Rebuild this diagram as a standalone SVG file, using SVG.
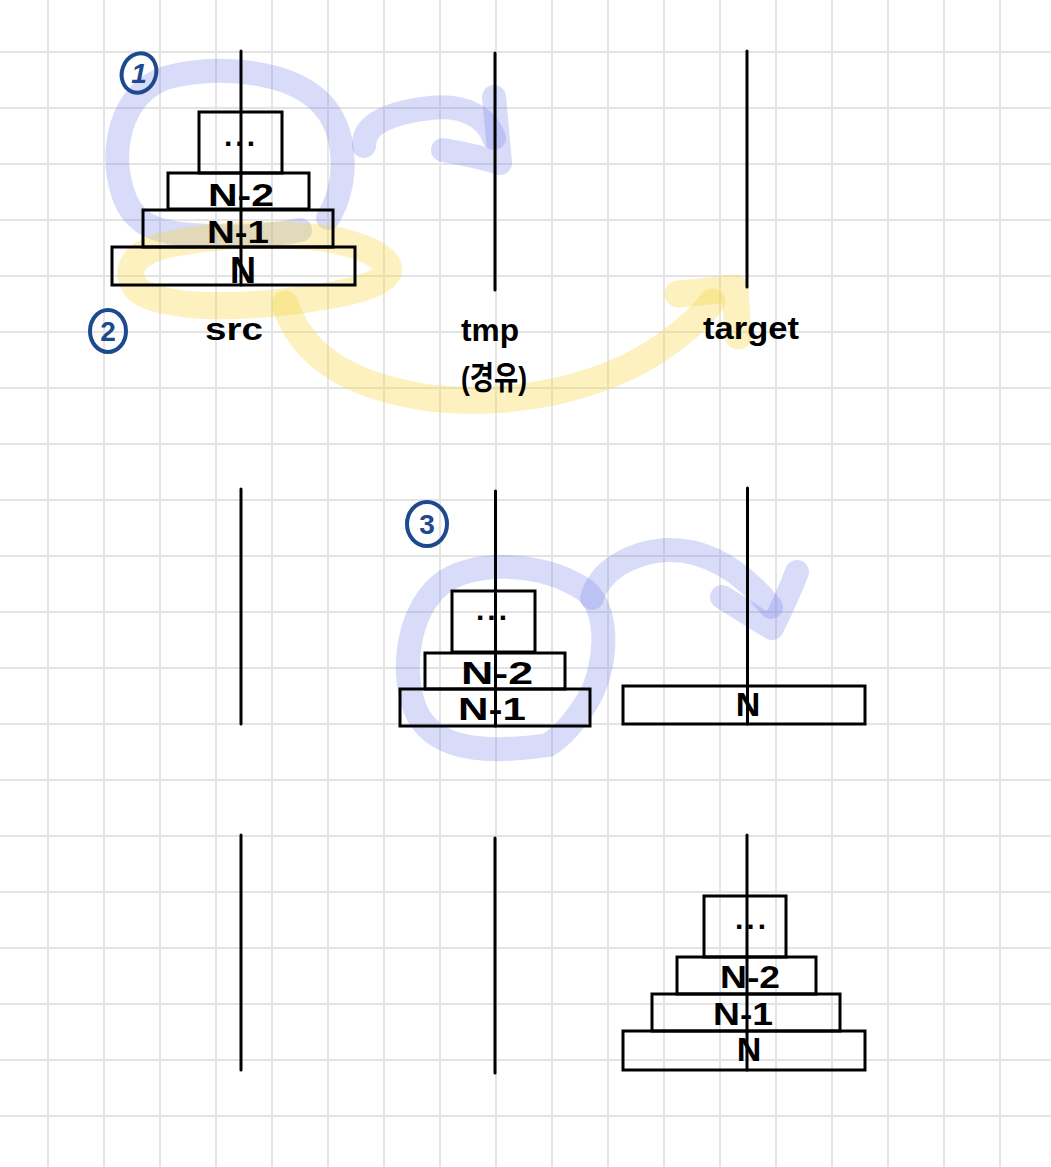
<svg xmlns="http://www.w3.org/2000/svg" width="1051" height="1167" viewBox="0 0 1051 1167">
  <defs>
    <style>
      .grid { stroke: #e4e4e4; stroke-width: 2; fill: none; }
      .pole { stroke: #000; stroke-width: 3; fill: none; stroke-linecap: round; }
      .disk { stroke: #000; stroke-width: 3; fill: none; }
      .lbl { font-family: "Liberation Sans", "Noto Sans", sans-serif; font-weight: bold; fill: #000; text-anchor: middle; }
      .dots { font-family: "Liberation Sans", sans-serif; font-weight: bold; font-size: 30px; fill: #000; text-anchor: middle; letter-spacing: 3px; }
      .peg { font-family: "Liberation Sans", "Noto Sans CJK KR", sans-serif; font-weight: bold; font-size: 32px; fill: #000; text-anchor: middle; }
      .blue { fill: none; stroke: rgb(120,128,235); stroke-opacity: 0.28; stroke-width: 24; stroke-linecap: round; stroke-linejoin: round; }
      .yellow { fill: none; stroke: rgb(245,212,60); stroke-opacity: 0.33; stroke-width: 27; stroke-linecap: round; stroke-linejoin: round; }
      .num ellipse { fill: none; stroke: #1d4a8e; stroke-width: 4; }
      .num text { font-family: "Liberation Sans", sans-serif; font-weight: bold; font-size: 28px; fill: #1d4a8e; text-anchor: middle; }
    </style>
  </defs>
  <rect x="0" y="0" width="1051" height="1167" fill="#fff"/>
  <g id="grid" class="grid">
    <path d="M48 0V1167M104 0V1167M160 0V1167M216 0V1167M272 0V1167M328 0V1167M384 0V1167M440 0V1167M496 0V1167M552 0V1167M608 0V1167M664 0V1167M720 0V1167M776 0V1167M832 0V1167M888 0V1167M944 0V1167M1000 0V1167"/>
    <path d="M0 52H1051M0 108H1051M0 164H1051M0 220H1051M0 276H1051M0 332H1051M0 388H1051M0 444H1051M0 500H1051M0 556H1051M0 612H1051M0 668H1051M0 724H1051M0 780H1051M0 836H1051M0 892H1051M0 948H1051M0 1004H1051M0 1060H1051M0 1116H1051"/>
  </g>

  <g id="connectors">
    <!-- step 1: blue loop and arrow to tmp -->
    <path class="blue" d="M328 218 C348 185 350 130 318 100 C285 70 215 64 165 78 C120 95 110 150 122 190 C130 220 150 232 190 235 C230 238 270 236 300 230"/>
    <path class="blue" d="M364 146 C363 122 395 112 430 108 C465 104 487 118 494 138"/>
    <path class="blue" d="M494 97 C496 120 498 140 500 162 M443 150 C465 154 485 158 500 163"/>
    <!-- step 2: yellow loop and arrow to target -->
    <path class="yellow" d="M300 236 C340 238 380 250 388 266 C392 282 360 292 300 300 C240 308 165 310 138 290 C122 272 132 252 170 244 C210 236 250 233 300 236"/>
    <path class="yellow" d="M285 304 C300 350 340 385 430 398 C520 408 600 385 650 355 C680 336 700 318 712 302"/>
    <path class="yellow" d="M678 294 C700 292 718 290 735 288 C736 305 737 322 738 336"/>
    <!-- step 3: blue loop and arrow to target -->
    <path class="blue" d="M548 745 C500 752 440 755 418 715 C400 680 405 615 440 585 C470 560 540 560 585 590 C612 612 606 670 588 700 C575 722 560 738 548 745"/>
    <path class="blue" d="M592 598 C600 570 630 553 665 550 C710 548 745 575 771 607"/>
    <path class="blue" d="M797 572 C790 590 780 612 772 628 M722 597 C740 608 758 620 772 628"/>
  </g>

  <g id="pegs">
    <line class="pole" x1="241" y1="51" x2="241" y2="285"/>
    <line class="pole" x1="495" y1="53" x2="495" y2="290"/>
    <line class="pole" x1="747" y1="51" x2="747" y2="287"/>
    <line class="pole" x1="241" y1="489" x2="241" y2="724"/>
    <line class="pole" x1="495.5" y1="491" x2="495.5" y2="726"/>
    <line class="pole" x1="747.5" y1="488" x2="747.5" y2="724"/>
    <line class="pole" x1="241" y1="835" x2="241" y2="1070"/>
    <line class="pole" x1="495" y1="838" x2="495" y2="1073"/>
    <line class="pole" x1="747" y1="835" x2="747" y2="1070"/>
  </g>

  <g id="peg-labels">
    <text class="peg" x="234" y="340" textLength="58" lengthAdjust="spacingAndGlyphs">src</text>
    <text class="peg" x="490" y="341" textLength="58" lengthAdjust="spacingAndGlyphs">tmp</text>
    <text class="peg" x="494" y="389" font-size="26" textLength="66" lengthAdjust="spacingAndGlyphs">(경유)</text>
    <text class="peg" x="751" y="339" textLength="96" lengthAdjust="spacingAndGlyphs">target</text>
  </g>

  <g id="step-numbers" class="num">
    <g id="num-1"><ellipse cx="139" cy="73" rx="17" ry="20" transform="rotate(20 139 73)"/><text x="139" y="83" font-style="italic">1</text></g>
    <g id="num-2"><ellipse cx="108" cy="331" rx="18" ry="21"/><text x="108" y="341">2</text></g>
    <g id="num-3"><ellipse cx="427" cy="524" rx="20" ry="22"/><text x="427" y="534">3</text></g>
  </g>

  <!-- top row: all disks on src -->
  <g id="top-dots"><rect class="disk" x="199" y="112" width="83" height="61"/><text class="dots" x="241" y="146">...</text></g>
  <g id="top-n2"><rect class="disk" x="168" y="173" width="141" height="36"/><text class="lbl" x="241" y="206" font-size="32" textLength="66" lengthAdjust="spacingAndGlyphs">N-2</text></g>
  <g id="top-n1"><rect class="disk" x="143" y="210" width="190" height="37"/><text class="lbl" x="238" y="243" font-size="32" textLength="62" lengthAdjust="spacingAndGlyphs">N-1</text></g>
  <g id="top-n"><rect class="disk" x="112" y="247" width="243" height="38"/><text class="lbl" x="243" y="283" font-size="36">N</text></g>

  <!-- middle row -->
  <g id="mid-dots"><rect class="disk" x="452" y="591" width="83" height="61"/><text class="dots" x="493" y="620">...</text></g>
  <g id="mid-n2"><rect class="disk" x="425" y="653" width="140" height="36"/><text class="lbl" x="497" y="684" font-size="32" textLength="72" lengthAdjust="spacingAndGlyphs">N-2</text></g>
  <g id="mid-n1"><rect class="disk" x="400" y="689" width="190" height="37"/><text class="lbl" x="492" y="720" font-size="32" textLength="68" lengthAdjust="spacingAndGlyphs">N-1</text></g>
  <g id="mid-n"><rect class="disk" x="623" y="686" width="242" height="38"/><text class="lbl" x="748" y="716" font-size="34">N</text></g>

  <!-- bottom row -->
  <g id="bot-dots"><rect class="disk" x="704" y="896" width="82" height="61"/><text class="dots" x="752" y="929">...</text></g>
  <g id="bot-n2"><rect class="disk" x="677" y="957" width="139" height="37"/><text class="lbl" x="750" y="988" font-size="32" textLength="60" lengthAdjust="spacingAndGlyphs">N-2</text></g>
  <g id="bot-n1"><rect class="disk" x="652" y="994" width="188" height="37"/><text class="lbl" x="743" y="1025" font-size="32" textLength="60" lengthAdjust="spacingAndGlyphs">N-1</text></g>
  <g id="bot-n"><rect class="disk" x="623" y="1031" width="242" height="39"/><text class="lbl" x="749" y="1061" font-size="34">N</text></g>
</svg>
